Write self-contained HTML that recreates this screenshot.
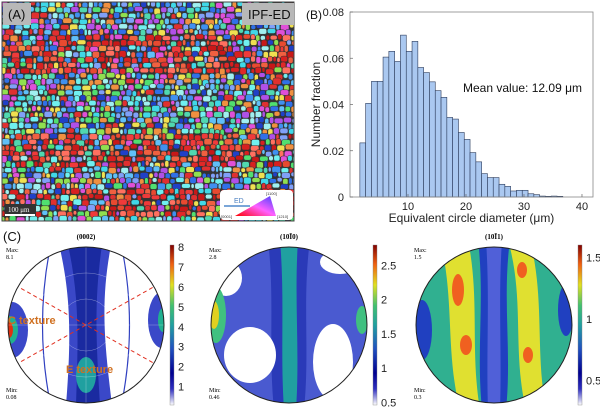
<!DOCTYPE html>
<html><head><meta charset="utf-8">
<style>
html,body{margin:0;padding:0;background:#fff;}
body{width:600px;height:407px;overflow:hidden;font-family:"Liberation Sans",sans-serif;}
svg{position:absolute;left:0;top:0;}
</style></head>
<body>
<svg id="root" width="600" height="407" viewBox="0 0 600 407">
<defs>
<clipPath id="ebsdClip"><rect x="2" y="2" width="292" height="219"/></clipPath>
<clipPath id="pf1c"><circle cx="86" cy="325" r="78"/></clipPath>
<clipPath id="pf2c"><circle cx="289" cy="325" r="78"/></clipPath>
<clipPath id="pf3c"><circle cx="494" cy="325" r="78"/></clipPath>
<linearGradient id="cmap" x1="0" y1="1" x2="0" y2="0">
<stop offset="0" stop-color="#ffffff"/><stop offset="0.1" stop-color="#3030c0"/>
<stop offset="0.2" stop-color="#000090"/><stop offset="0.35" stop-color="#2050c0"/>
<stop offset="0.5" stop-color="#20a0a0"/><stop offset="0.62" stop-color="#40c070"/>
<stop offset="0.75" stop-color="#e0e020"/><stop offset="0.88" stop-color="#f06010"/>
<stop offset="1" stop-color="#800000"/></linearGradient>
<linearGradient id="tri" x1="0" y1="1" x2="1" y2="0">
<stop offset="0" stop-color="#ff0000"/><stop offset="0.5" stop-color="#ff60ff"/><stop offset="1" stop-color="#4040ff"/></linearGradient>
</defs>

<g id="ebsd" clip-path="url(#ebsdClip)"><rect x="2" y="2" width="292" height="219" fill="#333"/></g>
<rect x="2" y="2" width="292" height="219" fill="none" stroke="#444" stroke-width="1"/>
<rect x="3" y="3" width="28" height="22" fill="#b8b8b8"/>
<text x="8" y="19" font-size="13" fill="#111">(A)</text>
<rect x="242" y="3" width="52" height="22" fill="#b8b8b8"/>
<text x="248" y="19" font-size="13" fill="#111">IPF-ED</text>
<rect x="5" y="204" width="31" height="12" fill="#333"/>
<rect x="5" y="214" width="30" height="2" fill="#fff"/>
<text x="8" y="212" font-size="7" fill="#fff" font-family="Liberation Serif,serif">100 μm</text>
<g>
<rect x="220" y="190" width="73" height="30" rx="4" fill="#fff"/>
<polygon points="235,216 270,196 276,216" fill="url(#tri)"/>
<text x="234" y="203" font-size="7" fill="#4a7fc0">ED</text>
<line x1="224" y1="206" x2="250" y2="206" stroke="#7aa6d8" stroke-width="2"/>
<text x="221" y="218" font-size="4" fill="#333">[0001]</text>
<text x="266" y="195" font-size="4" fill="#333">[1100]</text>
<text x="277" y="218" font-size="4" fill="#333">[1210]</text>
</g>

<text x="306" y="19" font-size="12" fill="#111">(B)</text>
<g id="hist"></g>

<text x="3" y="241" font-size="13" fill="#111">(C)</text>

<g>
<g clip-path="url(#pf1c)">
<rect x="0" y="240" width="180" height="170" fill="#fff"/>
<path d="M58,240 C70,290 72,330 66,405 L112,405 C104,340 100,300 112,240 Z" fill="#3a48c8"/>
<path d="M68,245 C80,300 78,340 76,405 L100,405 C96,340 94,300 102,245 Z" fill="#1a2aa0"/>
<ellipse cx="86" cy="375" rx="10" ry="18" fill="#20a0a0"/>
<ellipse cx="12" cy="330" rx="16" ry="28" fill="#3a48c8"/>
<ellipse cx="10" cy="330" rx="8" ry="14" fill="#20b090"/>
<ellipse cx="9" cy="330" rx="4" ry="8" fill="#e03010"/>
<ellipse cx="162" cy="320" rx="14" ry="28" fill="#3a48c8"/>
<ellipse cx="163" cy="320" rx="5" ry="12" fill="#20b090"/>
<path d="M50,248 Q35,325 50,402 M122,248 Q137,325 122,402" fill="none" stroke="#3040c0" stroke-width="1.2"/>
<path d="M15,285 L157,365 M15,365 L157,285" stroke="#e03020" stroke-width="1" stroke-dasharray="4,3"/>
</g>
<g class="grid" fill="none" stroke="#fff" stroke-opacity="0.45" stroke-width="0.5">
<circle cx="86" cy="325" r="26"/><circle cx="86" cy="325" r="52"/><line x1="86" y1="247" x2="86" y2="403"/><line x1="8" y1="325" x2="164" y2="325"/>
<circle cx="289" cy="325" r="26"/><circle cx="289" cy="325" r="52"/><line x1="289" y1="247" x2="289" y2="403"/><line x1="211" y1="325" x2="367" y2="325"/>
<circle cx="494" cy="325" r="26"/><circle cx="494" cy="325" r="52"/><line x1="494" y1="247" x2="494" y2="403"/><line x1="416" y1="325" x2="572" y2="325"/>
</g>
<circle cx="86" cy="325" r="78" fill="none" stroke="#222" stroke-width="1"/>
<text x="86" y="239" font-size="7" text-anchor="middle" font-family="Liberation Serif,serif" font-weight="bold">(0002)</text>
<text x="6" y="252" font-size="6" font-family="Liberation Serif,serif">Max:</text><text x="6" y="259" font-size="6" font-family="Liberation Serif,serif">8.1</text>
<text x="6" y="392" font-size="6" font-family="Liberation Serif,serif">Min:</text><text x="6" y="399" font-size="6" font-family="Liberation Serif,serif">0.08</text>
<text x="8" y="324" font-size="11" fill="#d07020" font-weight="bold">C texture</text>
<text x="66" y="373" font-size="11" fill="#d07020" font-weight="bold">E texture</text>
</g>

<g>
<g clip-path="url(#pf2c)">
<rect x="200" y="240" width="180" height="170" fill="#4a5ad0"/>
<path d="M268,240 C275,300 268,350 274,410 L304,410 C310,350 302,300 310,240 Z" fill="#2a3ab8"/>
<path d="M280,240 C285,300 280,350 284,410 L296,410 C300,350 294,300 298,240 Z" fill="#20a0a0"/>
<ellipse cx="226" cy="278" rx="16" ry="18" fill="#fff"/>
<ellipse cx="250" cy="355" rx="26" ry="28" fill="#fff"/>
<ellipse cx="340" cy="262" rx="20" ry="12" fill="#fff"/>
<ellipse cx="333" cy="362" rx="20" ry="38" fill="#fff"/>
<ellipse cx="216" cy="315" rx="10" ry="28" fill="#40c080"/>
<ellipse cx="214" cy="315" rx="5" ry="14" fill="#e0d020"/>
<ellipse cx="362" cy="320" rx="6" ry="14" fill="#40c080"/>
</g>
<circle cx="289" cy="325" r="78" fill="none" stroke="#222" stroke-width="1"/>
<text x="289" y="239" font-size="7" text-anchor="middle" font-family="Liberation Serif,serif" font-weight="bold">(10Ī0)</text>
<text x="209" y="252" font-size="6" font-family="Liberation Serif,serif">Max:</text><text x="209" y="259" font-size="6" font-family="Liberation Serif,serif">2.8</text>
<text x="209" y="392" font-size="6" font-family="Liberation Serif,serif">Min:</text><text x="209" y="399" font-size="6" font-family="Liberation Serif,serif">0.46</text>
</g>

<g>
<g clip-path="url(#pf3c)">
<rect x="410" y="240" width="170" height="170" fill="#30b090"/>
<path d="M440,240 C455,300 445,350 460,410 L480,410 C470,350 480,300 468,240 Z" fill="#e0e030"/>
<path d="M508,240 C525,300 512,350 526,410 L546,410 C535,350 545,300 530,240 Z" fill="#e0e030"/>
<ellipse cx="458" cy="290" rx="6" ry="16" fill="#f06020"/>
<ellipse cx="466" cy="345" rx="6" ry="10" fill="#f06020"/>
<ellipse cx="522" cy="270" rx="5" ry="8" fill="#f06020"/>
<ellipse cx="528" cy="355" rx="5" ry="8" fill="#f06020"/>
<path d="M478,240 C485,300 476,350 482,410 L506,410 C512,350 502,300 510,240 Z" fill="#2040c0"/>
<path d="M486,240 C490,300 486,350 488,410 L500,410 C502,350 498,300 502,240 Z" fill="#5060d8"/>
<ellipse cx="422" cy="330" rx="10" ry="30" fill="#2040c0"/>
<ellipse cx="566" cy="310" rx="8" ry="26" fill="#2040c0"/>
</g>
<circle cx="494" cy="325" r="78" fill="none" stroke="#222" stroke-width="1"/>
<text x="494" y="239" font-size="7" text-anchor="middle" font-family="Liberation Serif,serif" font-weight="bold">(10Ī1)</text>
<text x="414" y="252" font-size="6" font-family="Liberation Serif,serif">Max:</text><text x="414" y="259" font-size="6" font-family="Liberation Serif,serif">1.5</text>
<text x="414" y="392" font-size="6" font-family="Liberation Serif,serif">Min:</text><text x="414" y="399" font-size="6" font-family="Liberation Serif,serif">0.3</text>
</g>

<g id="cbars"></g>
</svg>

<script>
const binStart = 1.7;
const binWidth = 1.0;
const fractions = [0.0234,0.0405,0.050,0.050,0.0605,0.063,0.0586,0.070,0.063,0.0673,0.056,0.0538,0.0498,0.046,0.0431,0.0344,0.0337,0.0279,0.0249,0.0192,0.0152,0.0101,0.0084,0.0084,0.0055,0.0046,0.0026,0.0029,0.0029,0.0014,0.001,0.0004,0.0003,0.0004,0.0003];
const xTicks = [10,20,30,40];
const yTicks = [0,0.02,0.04,0.06,0.08];
const yTickLabels = ["0","0.02","0.04","0.06","0.08"];
const cb1Ticks = [1,2,3,4,5,6,7,8];
const cb2Ticks = [0.5,1,1.5,2,2.5];
const cb3Ticks = [0.5,1,1.5];

const NS = "http://www.w3.org/2000/svg";
function mk(tag, attrs, parent){const e=document.createElementNS(NS,tag);for(const k in attrs)e.setAttribute(k,attrs[k]);parent.appendChild(e);return e;}

(function(){
  const g=document.getElementById('ebsd');
  let s=987654;function r(){s=(s*1103515245+12345)%2147483648;return s/2147483648;}
  const red=['#e02828','#d82020','#f03a3a','#e84a30','#c81818','#f06040','#ff7060'];
  const mix=['#40d8e8','#3070e8','#50e070','#b050e8','#e050d8','#70f0f0','#2040c8','#90e050','#f0e050','#60c0f8','#e03030','#4090f0','#50d8b0','#a0f0f0','#80a0f8','#f09040'];
  for(let y=2;y<222;y+=5.5){
    let x=2-r()*6;
    while(x<296){
      const w=3.5+r()*6;
      const band=(y>30&&y<70)||(y>130&&y<165)||(y>188&&y<215);
      const pal=(band&&r()<0.55)?red:mix;
      const c=pal[Math.floor(r()*pal.length)];
      const rect=mk('rect',{x:x.toFixed(1),y:(y+r()*2-1).toFixed(1),width:(w-0.6).toFixed(1),height:(4.5+r()*2.5).toFixed(1),fill:c,stroke:'#333','stroke-width':'0.5',rx:'2'},g);
      
      
      x+=w;
    }
  }
})();

(function(){
  const g=document.getElementById('hist');
  const L=350,R=593,T=12,B=197,xmin=0,xmax=41.9,ymax=0.08;
  const X=v=>L+(v-xmin)/(xmax-xmin)*(R-L);
  const Y=v=>B-v/ymax*(B-T);
  fractions.forEach((f,i)=>{
    const x0=binStart+i*binWidth;
    const b=mk('rect',{x:X(x0),y:Y(f),width:X(x0+binWidth)-X(x0),height:B-Y(f),fill:'#aac8f0',stroke:'#2a3a5a','stroke-width':'0.6'},g);
    
    
  });
  const ax=mk('rect',{x:L,y:T,width:R-L,height:B-T,fill:'none',stroke:'#888','stroke-width':'0.8'},g);
  
  
  xTicks.forEach(v=>{
    mk('line',{x1:X(v),x2:X(v),y1:B,y2:B-3,stroke:'#666','stroke-width':'0.7'},g);
    const t=mk('text',{x:X(v),y:B+13,'font-size':'11','text-anchor':'middle',fill:'#222'},g);
    t.textContent=v;
    
    
  });
  yTicks.forEach((v,i)=>{
    mk('line',{x1:L,x2:L+3,y1:Y(v),y2:Y(v),stroke:'#666','stroke-width':'0.7'},g);
    const t=mk('text',{x:L-6,y:Y(v)+4,'font-size':'11','text-anchor':'end',fill:'#222'},g);
    t.textContent=yTickLabels[i];
    
    
  });
  const xt=mk('text',{x:(L+R)/2,y:222,'font-size':'12','text-anchor':'middle',fill:'#222'},g);
  xt.textContent='Equivalent circle diameter (μm)';
  
  
  const yt=mk('text',{x:0,y:0,'font-size':'12','text-anchor':'middle',fill:'#222',transform:'translate(320,'+((T+B)/2)+') rotate(-90)'},g);
  yt.textContent='Number fraction';
  
  
  const mv=mk('text',{x:463,y:92,'font-size':'12',fill:'#111'},g);
  mv.textContent='Mean value: 12.09 μm';
  
  
})();

(function(){
  const g=document.getElementById('cbars');
  const defs=[{x:170,ticks:cb1Ticks,min:0.08,max:8.1},{x:373,ticks:cb2Ticks,min:0.46,max:2.8},{x:578,ticks:cb3Ticks,min:0.3,max:1.6}];
  defs.forEach(d=>{
    const T=245,B=405;
    const cb=mk('rect',{x:d.x,y:T,width:4,height:B-T,fill:'url(#cmap)',stroke:'#888','stroke-width':'0.4'},g);
    
    
    d.ticks.forEach(v=>{
      const y=B-(v-d.min)/(d.max-d.min)*(B-T);
      const t=mk('text',{x:d.x+8,y:y+4,'font-size':'11',fill:'#222'},g);
      t.textContent=v;
      
      
    });
  });
})();
</script>
</body></html>
